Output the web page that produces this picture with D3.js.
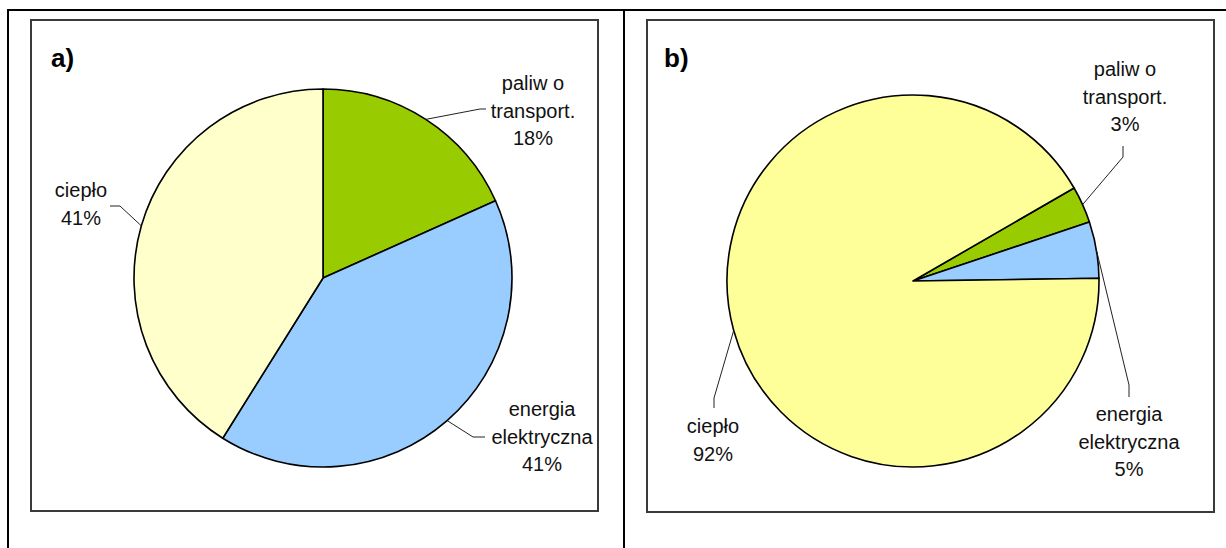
<!DOCTYPE html>
<html>
<head>
<meta charset="utf-8">
<script src="https://cdn.jsdelivr.net/npm/d3@7"></script>
<style>
  html, body { margin: 0; padding: 0; background: #fff; }
  svg { display: block; }
  text { font-family: "Liberation Sans", Arial, sans-serif; }
</style>
</head>
<body>
<svg id="chart" width="1226" height="548"></svg>
<script>
// ---- data ----
const categories = ["paliwo transport.", "energia elektryczna", "ciepło"];
const categoryLines = [["paliw o", "transport."], ["energia", "elektryczna"], ["ciepło"]];
const valuesA = [18.3, 40.6, 41.1];
const valuesB = [3.2, 4.9, 91.9];
const panelTitles = ["a)", "b)"];
const colorsA = ["#99CC00", "#99CCFF", "#FFFFCC"];
const colorsB = ["#99CC00", "#99CCFF", "#FFFF99"];

// ---- layout (not data) ----
const panels = [
  {
    values: valuesA, colors: colorsA, title: panelTitles[0],
    frame: [31, 20, 598, 511], titlePos: [51, 67],
    cx: 323, cy: 278, r: 189, startDeg: 0,
    labels: [
      { tx: 533, ty: 90, pts: [[480, 109], [486, 109]] },
      { tx: 542, ty: 416, pts: [[473, 437], [485, 437]] },
      { tx: 81, ty: 197, pts: [[120, 206], [110, 206]] }
    ]
  },
  {
    values: valuesB, colors: colorsB, title: panelTitles[1],
    frame: [647, 20, 1214, 512], titlePos: [664, 67],
    cx: 913, cy: 281, r: 186, startDeg: 60,
    labels: [
      { tx: 1125, ty: 76, pts: [[1123, 157], [1123, 146]] },
      { tx: 1129, ty: 421, pts: [[1129, 385], [1129, 397]] },
      { tx: 713, ty: 433, pts: [[714, 398], [714, 408]] }
    ]
  }
];
const lineH = 27.5;

const svg = d3.select("#chart");

// outer table lines
svg.append("line").attr("x1", 7).attr("x2", 1226).attr("y1", 10).attr("y2", 10)
  .attr("stroke", "#000").attr("stroke-width", 2);
[8, 624].forEach(x => {
  svg.append("line").attr("x1", x).attr("x2", x).attr("y1", 9).attr("y2", 548)
    .attr("stroke", "#000").attr("stroke-width", 2);
});

panels.forEach(p => {
  const [x0, y0, x1, y1] = p.frame;
  svg.append("rect").attr("x", x0).attr("y", y0).attr("width", x1 - x0).attr("height", y1 - y0)
    .attr("fill", "#fff").attr("stroke", "#3a3a3a").attr("stroke-width", 2);

  svg.append("text").attr("x", p.titlePos[0]).attr("y", p.titlePos[1])
    .attr("font-size", 26).attr("font-weight", "bold").attr("fill", "#000").text(p.title);

  const start = p.startDeg * Math.PI / 180;
  const pie = d3.pie().sort(null).startAngle(start).endAngle(start + 2 * Math.PI);
  const arcs = pie(p.values);
  const arc = d3.arc().innerRadius(0).outerRadius(p.r);
  const total = d3.sum(p.values);

  const g = svg.append("g").attr("transform", `translate(${p.cx},${p.cy})`);
  g.selectAll("path").data(arcs).join("path")
    .attr("d", arc)
    .attr("fill", (d, i) => p.colors[i])
    .attr("stroke", "#000").attr("stroke-width", 1.6).attr("stroke-linejoin", "round");

  arcs.forEach((d, i) => {
    const mid = (d.startAngle + d.endAngle) / 2;
    const sx = p.cx + p.r * Math.sin(mid);
    const sy = p.cy - p.r * Math.cos(mid);
    const L = p.labels[i];
    const pts = [[sx, sy]].concat(L.pts);
    svg.append("path").attr("d", d3.line()(pts))
      .attr("fill", "none").attr("stroke", "#222").attr("stroke-width", 1);

    const lines = categoryLines[i].concat([Math.round(d.data / total * 100) + "%"]);
    const t = svg.append("text").attr("text-anchor", "middle").attr("font-size", 20).attr("fill", "#111");
    lines.forEach((s, k) => {
      t.append("tspan").attr("x", L.tx).attr("y", L.ty + k * lineH).text(s);
    });
  });
});
</script>
</body>
</html>
